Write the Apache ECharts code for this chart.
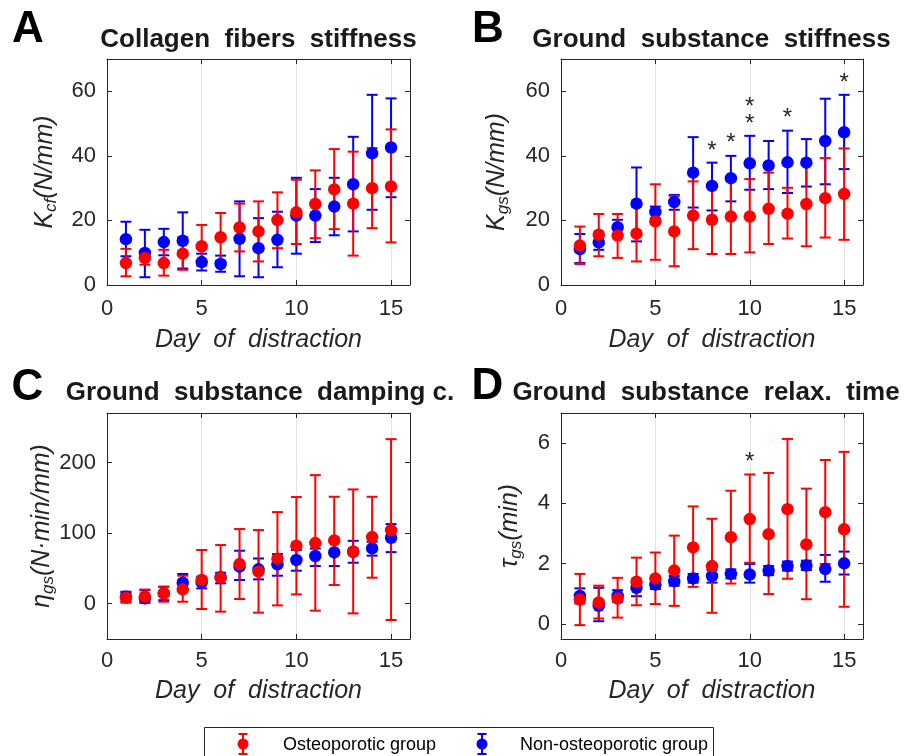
<!DOCTYPE html>
<html>
<head>
<meta charset="utf-8">
<script src="https://cdn.jsdelivr.net/npm/echarts@6/dist/echarts.min.js"></script>
<style>html,body{margin:0;padding:0;background:#fff}#c{width:909px;height:756px}</style>
</head>
<body>
<div id="c"></div>
<script>
// ---------- DATA ----------
const days = [1,2,3,4,5,6,7,8,9,10,11,12,13,14,15];
const xTicks = [0,5,10,15];

// Panel A: Collagen fibers stiffness (N/mm)
const A_oste_mean = [6.8, 8.4, 6.8, 9.7, 12.0, 14.8, 17.8, 16.6, 20.1, 22.5, 25.1, 29.6, 25.2, 30.0, 30.5];
const A_oste_lo   = [2.7, 6.3, 2.9, 4.7, 6.0, 7.5, 10.4, 7.3, 11.4, 12.7, 14.5, 17.3, 9.1, 17.6, 13.2];
const A_oste_hi   = [11.2, 10.6, 10.9, 14.7, 18.6, 22.3, 25.2, 25.9, 28.7, 32.6, 35.5, 42.1, 41.3, 42.4, 48.2];
const A_non_mean  = [14.2, 9.9, 13.3, 13.7, 7.1, 6.5, 14.3, 11.4, 14.0, 21.5, 21.5, 24.3, 31.2, 40.8, 42.6];
const A_non_lo    = [8.9, 2.4, 9.2, 5.1, 4.5, 4.1, 2.7, 2.4, 5.5, 9.7, 13.3, 15.4, 16.6, 23.3, 27.2];
const A_non_hi    = [19.6, 17.1, 17.4, 22.5, 9.7, 9.1, 25.9, 20.7, 22.7, 33.2, 29.7, 33.2, 45.9, 58.9, 57.8];
const A_stars = [];

// Panel B: Ground substance stiffness (N/mm)
const B_oste_mean = [12.2, 15.6, 15.3, 15.9, 19.7, 16.6, 21.5, 20.2, 21.2, 21.2, 23.6, 22.1, 25.1, 26.9, 28.2];
const B_oste_lo   = [6.5, 8.9, 8.4, 7.3, 7.8, 5.8, 11.1, 9.6, 9.6, 10.1, 12.7, 14.4, 12.0, 14.7, 14.0];
const B_oste_hi   = [18.1, 22.0, 22.0, 24.3, 31.2, 27.6, 32.1, 30.9, 33.1, 32.8, 34.8, 30.1, 37.7, 39.3, 42.3];
const B_non_mean  = [11.1, 13.2, 17.9, 25.2, 22.6, 25.7, 34.8, 30.7, 33.1, 37.7, 37.0, 38.0, 37.9, 44.6, 47.3];
const B_non_lo    = [6.8, 10.9, 15.6, 13.5, 20.7, 23.3, 24.0, 23.1, 25.9, 29.5, 29.7, 28.5, 30.5, 31.2, 35.9];
const B_non_hi    = [15.8, 15.1, 20.2, 36.4, 24.3, 27.9, 45.8, 37.9, 40.0, 46.2, 44.6, 47.8, 45.2, 57.7, 58.9];
const B_stars = [[8,43.2],[9,45.5],[10,51.4],[10,56.8],[12,53.2],[15,64.3]];

// Panel C: Ground substance damping coefficient (N·min/mm)
const C_oste_mean = [8.5, 9.9, 14.6, 20.3, 33.5, 36.8, 56.1, 45.3, 63.7, 82.1, 85.8, 89.6, 73.6, 94.3, 104.2];
const C_oste_lo   = [1.4, 1.4, 2.8, 2.8, -7.5, -11.3, 6.6, -12.7, -2.4, 13.2, -9.9, 26.4, -13.7, 36.8, -23.1];
const C_oste_hi   = [16, 20, 24, 39.6, 76, 83, 105.7, 104.2, 129.7, 151, 182, 151.4, 161.8, 151.4, 233];
const C_non_mean  = [9.9, 7.5, 14.6, 29.7, 30.2, 37.3, 52.4, 48.6, 55.7, 61.8, 67.5, 72.6, 73.6, 78.3, 93.4];
const C_non_lo    = [3, 1.4, 5, 19, 21.7, 28.8, 33.5, 34.4, 39.6, 46.7, 53.3, 53.3, 58, 68, 73];
const C_non_hi    = [17, 19, 24, 42, 38.2, 43.9, 75, 64, 70.3, 76, 78, 88, 89, 87.7, 112.7];
const C_stars = [];

// Panel D: Ground substance relaxation time (min)
const D_oste_mean = [0.81, 0.71, 0.84, 1.40, 1.51, 1.77, 2.54, 1.92, 2.88, 3.48, 2.98, 3.81, 2.64, 3.71, 3.14];
const D_oste_lo   = [-0.04, 0.18, 0.21, 0.62, 0.66, 0.60, 1.23, 0.37, 1.34, 2.03, 0.99, 1.50, 0.82, 1.99, 0.57];
const D_oste_hi   = [1.66, 1.27, 1.53, 2.20, 2.37, 2.93, 3.90, 3.49, 4.42, 4.96, 5.01, 6.14, 4.49, 5.44, 5.71];
const D_non_mean  = [0.93, 0.60, 0.93, 1.20, 1.31, 1.42, 1.51, 1.59, 1.66, 1.64, 1.77, 1.92, 1.94, 1.82, 2.01];
const D_non_lo    = [0.68, 0.09, 0.73, 0.92, 1.16, 1.27, 1.37, 1.37, 1.51, 1.37, 1.62, 1.77, 1.79, 1.40, 1.64];
const D_non_hi    = [1.18, 1.20, 1.12, 1.40, 1.46, 1.59, 1.66, 1.79, 1.81, 1.99, 1.92, 2.07, 2.10, 2.29, 2.40];
const D_stars = [[10,5.53]];

const yTicksAB = [0,20,40,60];
const yTicksC = [0,100,200];
const yTicksD = [0,2,4,6];

const panelTitles = ['Collagen  fibers  stiffness','Ground  substance  stiffness','Ground  substance  damping c.','Ground  substance  relax.  time'];
const panelLetters = ['A','B','C','D'];
const xAxisTitle = 'Day  of  distraction';
const seriesNames = ['Osteoporotic group','Non-osteoporotic group'];

// ---------- LAYOUT / STYLE ----------
const FONT = 'Liberation Sans, Arial, Helvetica, sans-serif';
const AX = '#262626';
const RED = '#ff0000', BLUE = '#0000ff';
const grids = [
  {left:107, top:59, width:303, height:226},
  {left:561, top:59, width:302, height:226},
  {left:107, top:413, width:303, height:226},
  {left:561, top:413, width:302, height:226}
];
const yRanges = [[0,70],[0,70],[-50,270],[-0.5,7]];
const yTickSets = [yTicksAB, yTicksAB, yTicksC, yTicksD];
const panels = [
  {om:A_oste_mean, ol:A_oste_lo, oh:A_oste_hi, nm:A_non_mean, nl:A_non_lo, nh:A_non_hi, st:A_stars},
  {om:B_oste_mean, ol:B_oste_lo, oh:B_oste_hi, nm:B_non_mean, nl:B_non_lo, nh:B_non_hi, st:B_stars},
  {om:C_oste_mean, ol:C_oste_lo, oh:C_oste_hi, nm:C_non_mean, nl:C_non_lo, nh:C_non_hi, st:C_stars},
  {om:D_oste_mean, ol:D_oste_lo, oh:D_oste_hi, nm:D_non_mean, nl:D_non_lo, nh:D_non_hi, st:D_stars}
];

const xAxes = [], yAxes = [], series = [];
grids.forEach((g, i) => {
  const bottomRow = i >= 2;
  xAxes.push({
    type:'value', gridIndex:i, min:0, max:16, interval:5, position:'bottom',
    axisLine:{show:true, onZero:false, lineStyle:{color:AX, width:1}},
    axisTick:{show:true, inside:true, length:5, lineStyle:{color:AX}},
    axisLabel:{show:true, color:AX, fontSize:22, fontFamily:FONT, margin: bottomRow ? 11 : 13, showMaxLabel:false},
    splitLine:{show:true, lineStyle:{color:'#e3e3e3', width:1}},
    name: xAxisTitle, nameLocation:'middle', nameGap: bottomRow ? 40 : 43,
    nameTextStyle:{fontSize:25, fontStyle:'italic', fontFamily:FONT, color:AX}
  });
  xAxes.push({
    type:'value', gridIndex:i, min:0, max:16, interval:5, position:'top',
    axisLine:{show:true, onZero:false, lineStyle:{color:AX, width:1}},
    axisTick:{show:true, inside:true, length:5, lineStyle:{color:AX}},
    axisLabel:{show:false}, splitLine:{show:false}
  });
  const yt = yTickSets[i];
  yAxes.push({
    type:'value', gridIndex:i, min:yRanges[i][0], max:yRanges[i][1], position:'left',
    axisLine:{show:true, onZero:false, lineStyle:{color:AX, width:1}},
    axisTick:{show:true, inside:true, length:5, lineStyle:{color:AX}, customValues:yt},
    axisLabel:{show:true, color:AX, fontSize:22, fontFamily:FONT, margin:11, customValues:yt},
    splitLine:{show:false}
  });
  yAxes.push({
    type:'value', gridIndex:i, min:yRanges[i][0], max:yRanges[i][1], position:'right',
    axisLine:{show:true, onZero:false, lineStyle:{color:AX, width:1}},
    axisTick:{show:true, inside:true, length:5, lineStyle:{color:AX}, customValues:yt},
    axisLabel:{show:false}, splitLine:{show:false}
  });
});

function errSeries(i, mean, lo, hi, color, name) {
  const barData = days.map((d, k) => [d, lo[k], hi[k]]);
  const ptData = days.map((d, k) => [d, mean[k]]);
  series.push({
    type:'custom', name:name, xAxisIndex:2*i, yAxisIndex:2*i, data:barData,
    encode:{x:0, y:[1,2]}, silent:true,
    renderItem:function(params, api){
      const x = api.value(0);
      const a = api.coord([x, api.value(1)]);
      const b = api.coord([x, api.value(2)]);
      const w = 5.5;
      const st = {stroke:color, lineWidth:2, fill:null};
      return {type:'group', children:[
        {type:'line', shape:{x1:a[0], y1:a[1], x2:b[0], y2:b[1]}, style:st},
        {type:'line', shape:{x1:a[0]-w, y1:a[1], x2:a[0]+w, y2:a[1]}, style:st},
        {type:'line', shape:{x1:b[0]-w, y1:b[1], x2:b[0]+w, y2:b[1]}, style:st}
      ]};
    }
  });
  series.push({
    type:'scatter', name:name, xAxisIndex:2*i, yAxisIndex:2*i, data:ptData,
    symbol:'circle', symbolSize:12.5, itemStyle:{color:color, opacity:1}, silent:true
  });
}

panels.forEach((p, i) => {
  errSeries(i, p.nm, p.nl, p.nh, BLUE, seriesNames[1]);
  errSeries(i, p.om, p.ol, p.oh, RED, seriesNames[0]);
  if (p.st.length) {
    series.push({
      type:'custom', name:'significance', xAxisIndex:2*i, yAxisIndex:2*i, data:p.st,
      encode:{x:0, y:1}, silent:true,
      renderItem:function(params, api){
        const c = api.coord([api.value(0), api.value(1)]);
        return {type:'text', x:c[0], y:c[1]+5.5, style:{text:'*', fontSize:24, fontFamily:FONT,
          fill:AX, align:'center', verticalAlign:'middle'}};
      }
    });
  }
});

// ---------- GRAPHIC TEXT (titles, letters, y names, legend) ----------
const graphic = [];
const titlePos = [[258.5,40],[711.5,40],[260,392.5],[706,392.5]];
const letterPos = [[28,30],[488,30],[27.5,388],[487.5,387]];
panelTitles.forEach((t, i) => {
  graphic.push({type:'text', x:titlePos[i][0], y:titlePos[i][1], silent:true,
    style:{text:t, fontSize:26, fontWeight:'bold', fontFamily:FONT, fill:'#1a1a1a', align:'center', verticalAlign:'middle'}});
  graphic.push({type:'text', x:letterPos[i][0], y:letterPos[i][1], silent:true,
    style:{text:panelLetters[i], fontSize:44, fontWeight:'bold', fontFamily:FONT, fill:'#000', align:'center', verticalAlign:'middle'}});
});
const richY = {
  i:{fontSize:25, fontStyle:'italic', fontFamily:FONT, fill:AX, lineHeight:30, verticalAlign:'middle'},
  s:{fontSize:17, fontStyle:'italic', fontFamily:FONT, fill:AX, lineHeight:17, verticalAlign:'bottom'}
};
const yNames = ['{i|K}{s|cf}{i|(N/mm)}','{i|K}{s|gs}{i|(N/mm)}','{i|η}{s|gs}{i|(N·min/mm)}','{i|τ}{s|gs}{i|(min)}'];
const yNamePos = [[45,172],[497,172],[42,526],[510,526]];
yNames.forEach((t, i) => {
  graphic.push({type:'text', x:yNamePos[i][0], y:yNamePos[i][1], rotation:Math.PI/2, silent:true,
    style:{text:t, rich:richY, align:'center', verticalAlign:'middle', fontFamily:FONT}});
});
// legend box
graphic.push({type:'rect', shape:{x:204.5, y:727.5, width:509, height:40}, silent:true,
  style:{fill:'#fff', stroke:AX, lineWidth:1}});
function legIcon(cx, color) {
  const cy = 744;
  const st = {stroke:color, lineWidth:2};
  graphic.push({type:'line', shape:{x1:cx, y1:734, x2:cx, y2:754}, style:st, silent:true});
  graphic.push({type:'line', shape:{x1:cx-4.5, y1:734, x2:cx+4.5, y2:734}, style:st, silent:true});
  graphic.push({type:'line', shape:{x1:cx-4.5, y1:754, x2:cx+4.5, y2:754}, style:st, silent:true});
  graphic.push({type:'circle', shape:{cx:cx, cy:cy, r:5.5}, style:{fill:color}, silent:true});
}
legIcon(243, RED);
legIcon(482, BLUE);
graphic.push({type:'text', x:283, y:745, silent:true, style:{text:seriesNames[0], fontSize:18, fontFamily:FONT, fill:'#000', align:'left', verticalAlign:'middle'}});
graphic.push({type:'text', x:520, y:745, silent:true, style:{text:seriesNames[1], fontSize:18, fontFamily:FONT, fill:'#000', align:'left', verticalAlign:'middle'}});

const chart = echarts.init(document.getElementById('c'), null, {renderer:'canvas'});
chart.setOption({
  animation:false,
  backgroundColor:'#fff',
  grid: grids.map(g => Object.assign({containLabel:false}, g)),
  xAxis: xAxes,
  yAxis: yAxes,
  series: series,
  graphic: graphic
});
</script>
</body>
</html>
